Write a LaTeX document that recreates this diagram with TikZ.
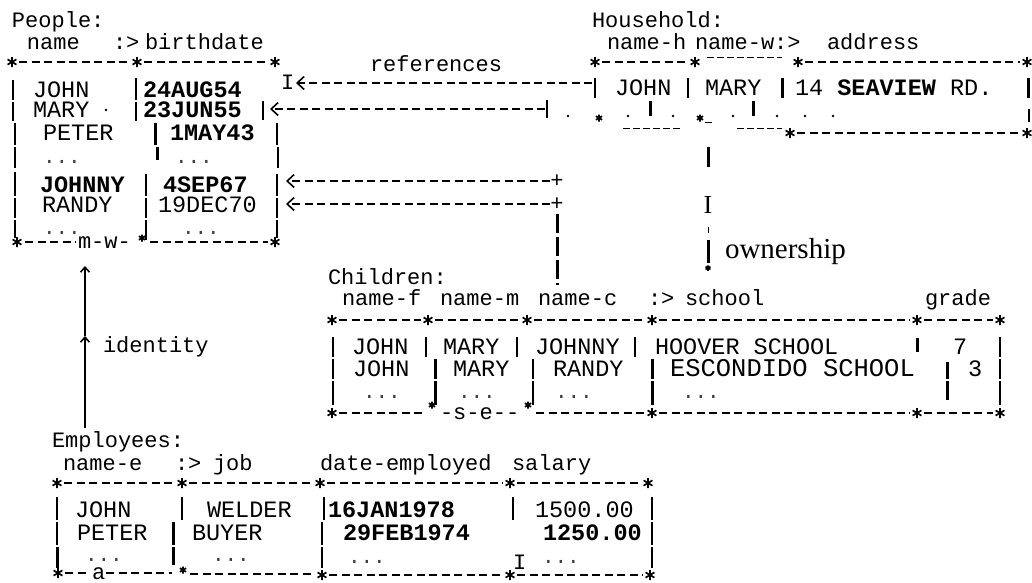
\documentclass[tikz,border=0pt]{standalone}
\usepackage{fontspec}
\setmainfont{Liberation Serif}
\setmonofont{Liberation Mono}
\usetikzlibrary{arrows.meta}

% table furniture: column bars, dashed rims, corner asterisks, loose dots
\newcommand\cbar[3]{\draw[tbar] (#1,#2) -- (#1,#3);}
\newcommand\cbarb[3]{\draw[tbold] (#1,#2) -- (#1,#3);}
\newcommand\hrim[3]{\draw[rim] (#1,#3) -- (#2,#3);}
\newcommand\astat[2]{\pic at (#1,#2) {astk};}
\newcommand\astsm[2]{\pic[scale=.7] at (#1,#2) {astk};}
\newcommand\dotat[2]{\fill (#1,#2) circle (1.4);}

\tikzset{
  every node/.style={inner sep=0pt, outer sep=0pt},
  head/.style={anchor=base west, font=\ttfamily\fontsize{22}{22}\selectfont},
  cell/.style={anchor=base west, font=\ttfamily\fontsize{23.5}{23.5}\selectfont},
  cellb/.style={anchor=base west, font=\ttfamily\bfseries\fontsize{23.5}{23.5}\selectfont},
  ell/.style={anchor=base west, text=black!75, font=\ttfamily\fontsize{21}{21}\selectfont},
  rim/.style={line width=1.6pt, dash pattern=on 8pt off 4.5pt},
  fine/.style={line width=0.9pt, dash pattern=on 7pt off 3pt},
  tbar/.style={line width=1.6pt},
  tbold/.style={line width=3pt},
  link/.style={line width=1.6pt, dash pattern=on 8pt off 4.5pt},
  chev/.style={-{Straight Barb[length=7pt,width=13pt,line width=1.6pt]}},
  idtip/.style={line width=1.8pt, -{Straight Barb[length=5pt,width=9pt,line width=1.6pt]}},
  astk/.pic={\draw[line width=1.7pt] (0,-5)--(0,5) (-4.4,-2.6)--(4.4,2.6) (-4.4,2.6)--(4.4,-2.6);}
}

\begin{document}
\begin{tikzpicture}[x=1pt,y=-1pt]
\fill[white] (0,0) rectangle (1032,582);
\useasboundingbox (0,0) rectangle (1032,582);

%% ---------------- People ----------------
\node[head] (pplTitle) at (12,27) {People:};
\node[head] (pplName)  at (27,49) {name};
\node[head] (pplKey)   at (113,49) {:>};
\node[head] (pplBirth) at (145,49) {birthdate};

\astat{12}{62}\astat{137}{62}\astat{275}{62}
\hrim{19}{130}{62}\hrim{144}{268}{62}

\node[cell]  (p1n) at (33,97)  {JOHN};
\node[cellb] (p1d) at (143,97) {24AUG54};
\node[head]  (pplI) at (281,89) {I};
\node[cell]  (p2n) at (33,117) {MARY};
\dotat{106}{110}
\node[cellb] (p2d) at (143,117) {23JUN55};
\node[cell]  (p3n) at (43,140) {PETER};
\node[cellb] (p3d) at (170,140) {1MAY43};
\node[ell]   (p4n) at (43,163) {...};
\node[ell]   (p4d) at (175,163) {...};
\node[cellb] (p5n) at (40,192) {JOHNNY};
\node[cellb] (p5d) at (163,192) {4SEP67};
\node[cell]  (p6n) at (42,212) {RANDY};
\node[cell]  (p6d) at (158,212) {19DEC70};
\node[ell]   (p7n) at (43,234) {...};
\node[ell]   (p7d) at (182,234) {...};

% column bars
\cbar{13}{80}{100}\cbar{13}{102}{121}\cbar{15}{123}{145}\cbar{15}{147}{168}
\cbar{15}{172}{196}\cbar{15}{198}{218}\cbar{15}{220}{238}
\cbar{136}{78}{100}\cbar{136}{102}{121}\cbarb{155}{123}{145}\cbarb{157}{147}{160}
\cbar{146}{174}{196}\cbar{146}{198}{218}\cbar{146}{220}{240}
\cbar{263}{101}{120}\cbar{277}{123}{145}\cbar{278}{147}{168}
\cbar{277}{174}{196}\cbar{277}{198}{218}\cbar{277}{220}{238}

\astat{17}{242}\hrim{25}{76}{242}
\node[head] (pplMW) at (78,248) {m-w-};
\astsm{142}{238}\hrim{150}{268}{242}\astat{275}{242}

%% ---------------- Household ----------------
\node[head] (hhTitle) at (592,27) {Household:};
\node[head] (hhH)    at (607,49) {name-h};
\node[head] (hhW)    at (695,49) {name-w:>};
\node[head] (hhAddr) at (827,49) {address};

\astat{595}{62}\astat{695}{62}\astat{798}{62}\astat{1027}{62}
\hrim{602}{688}{62}\hrim{805}{1020}{62}
\draw[fine] (707,57) -- (782,57);

\node[cell] (h1h) at (615,95) {JOHN};
\node[cell] (h1w) at (705,95) {MARY};
\node[cell] (h1a) at (795,95) {14 \textbf{SEAVIEW} RD.};
\cbar{595}{78}{98}\cbar{688}{78}{98}\cbarb{782}{78}{98}\cbarb{1028}{78}{98}

\dotat{568}{116}\dotat{628}{116}\dotat{673}{116}\dotat{733}{116}
\dotat{777}{116}\dotat{805}{116}\dotat{833}{116}
\astsm{599}{118}\astsm{700}{118}
\draw[line width=1pt] (705,122) -- (712,122);
\cbarb{650}{101}{116}\cbarb{753}{101}{116}\cbar{1029}{109}{122}
\draw[fine] (623,128) -- (680,128);
\draw[fine] (737,128) -- (782,128);

\astat{790}{133}\hrim{797}{1020}{133}\astat{1027}{133}

%% ---------------- references ----------------
\node[head] (refLbl) at (370,71) {references};
\coordinate (refA) at (592,83);
\coordinate (refAtip) at (296,83);
\draw[link,chev] (refA) -- (refAtip);
\coordinate (refB) at (545,109);
\coordinate (refBtip) at (270,109);
\draw[link,chev] (refB) -- (refBtip);
\cbar{547}{100}{118}

%% ---------------- Children -> People ----------------
\node[head, anchor=center] (plusA) at (557,181) {+};
\node[head, anchor=center] (plusB) at (557,204) {+};
\coordinate (tipA) at (286,181);
\coordinate (tipB) at (286,204);
\draw[link,chev] (plusA.west) -- (tipA);
\draw[link,chev] (plusB.west) -- (tipB);
\coordinate (chLinkTop) at (557,214);
\coordinate (chLinkBot) at (557,285);
\draw[line width=3pt, dash pattern=on 19pt off 4pt] (chLinkTop) -- (chLinkBot);

%% ---------------- ownership ----------------
\coordinate (ownTop) at (708,147);
\coordinate (ownBot) at (708,268);
\draw[tbold] (ownTop) -- ++(0,20);
\node[font=\fontsize{26}{26}\selectfont] (ownI) at (708,205) {I};
\draw[line width=0.8pt] (708,227) -- (708,233);
\draw[tbold] (708,240) -- (708,263);
\pic[scale=.55] at (ownBot) {astk};
\node[anchor=base west, font=\fontsize{29}{29}\selectfont] (ownLbl) at (725,258) {ownership};

%% ---------------- Children ----------------
\node[head] (chTitle) at (328,284) {Children:};
\node[head] (chF)   at (342,305) {name-f};
\node[head] (chM)   at (440,305) {name-m};
\node[head] (chC)   at (538,305) {name-c};
\node[head] (chKey) at (648,305) {:>};
\node[head] (chSch) at (685,305) {school};
\node[head] (chGr)  at (925,305) {grade};

\astat{332}{320}\astat{428}{320}\astat{527}{320}\astat{652}{320}\astat{917}{320}\astat{1000}{320}
\hrim{339}{421}{320}\hrim{435}{520}{320}\hrim{534}{645}{320}\hrim{659}{910}{320}\hrim{924}{993}{320}

\node[cell] (c1f) at (352,354) {JOHN};
\node[cell] (c1m) at (443,354) {MARY};
\node[cell] (c1c) at (535,354) {JOHNNY};
\node[cell] (c1s) at (655,354) {HOOVER SCHOOL};
\node[cell] (c1g) at (953,354) {7};
\node[cell] (c2f) at (353,376) {JOHN};
\node[cell] (c2m) at (453,376) {MARY};
\node[cell] (c2c) at (553,376) {RANDY};
\node[anchor=base west, font=\ttfamily\fontsize{25.5}{25.5}\selectfont] (c2s) at (670,376) {ESCONDIDO SCHOOL};
\node[cell] (c2g) at (968,376) {3};
\node[ell] (c3f) at (363,398) {...};
\node[ell] (c3m) at (458,398) {...};
\node[ell] (c3c) at (555,398) {...};
\node[ell] (c3s) at (682,398) {...};

\cbar{333}{337}{357}\cbar{426}{337}{357}\cbar{517}{337}{357}\cbar{635}{337}{357}\cbarb{917}{338}{352}\cbar{1000}{337}{357}
\cbar{333}{359}{379}\cbarb{435}{359}{379}\cbar{533}{359}{379}\cbarb{652}{359}{379}\cbarb{947}{362}{379}\cbar{1000}{359}{379}
\cbar{333}{381}{405}\cbarb{435}{381}{405}\cbar{533}{381}{405}\cbarb{652}{381}{405}\cbarb{947}{381}{400}\cbar{1000}{381}{405}

\astat{332}{413}\hrim{339}{424}{413}
\astsm{432}{405}
\node[head] (chSE) at (440,419) {-s-e--};
\astsm{528}{405}\hrim{536}{645}{413}\astat{652}{413}
\hrim{659}{910}{413}\astat{917}{413}\hrim{924}{993}{413}\astat{1000}{413}

%% ---------------- identity ----------------
\coordinate (idBot) at (85,428);
\coordinate (idMid) at (85,336);
\coordinate (idTop) at (85,266);
\draw[idtip] (idBot) -- (idMid);
\draw[idtip] (idMid) -- (idTop);
\node[head] (idLbl) at (103,352) {identity};

%% ---------------- Employees ----------------
\node[head] (emTitle) at (52,447) {Employees:};
\node[head] (emName) at (63,470) {name-e};
\node[head] (emKey)  at (175,470) {:>};
\node[head] (emJob)  at (213,470) {job};
\node[head] (emDate) at (320,470) {date-employed};
\node[head] (emSal)  at (512,470) {salary};

\astat{57}{483}\astat{182}{483}\astat{320}{483}\astat{510}{483}\astat{648}{483}
\hrim{64}{175}{483}\hrim{189}{313}{483}\hrim{327}{503}{483}\hrim{517}{641}{483}

\node[cell]  (e1n) at (75,517)  {JOHN};
\node[cell]  (e1j) at (207,517) {WELDER};
\node[cellb] (e1d) at (328,517) {16JAN1978};
\node[cell]  (e1s) at (535,517) {1500.00};
\node[cell]  (e2n) at (77,540)  {PETER};
\node[cell]  (e2j) at (192,540) {BUYER};
\node[cellb] (e2d) at (343,540) {29FEB1974};
\node[cellb] (e2s) at (543,540) {1250.00};
\node[ell]   (e3n) at (85,561)  {...};
\node[ell]   (e3j) at (212,561) {...};
\node[ell]   (e3d) at (348,563) {...};
\node[head]  (e3I) at (513,569) {I};
\node[ell]   (e3s) at (542,563) {...};

\cbar{57}{497}{520}\cbar{182}{497}{520}\cbar{324}{497}{520}\cbar{513}{497}{520}\cbar{652}{497}{520}
\cbar{57}{522}{545}\cbarb{173}{522}{545}\cbar{322}{522}{545}\cbar{652}{522}{545}
\cbarb{57}{547}{568}\cbarb{173}{547}{565}\cbar{322}{547}{568}\cbar{652}{547}{568}

\astat{58}{573}\hrim{65}{88}{573}
\node[head] (emA) at (92,579) {a};
\hrim{106}{172}{573}\astsm{183}{570}\hrim{190}{313}{574}
\astat{322}{575}\hrim{329}{503}{575}\astat{510}{575}\hrim{517}{643}{575}\astat{650}{575}
\end{tikzpicture}
\end{document}
